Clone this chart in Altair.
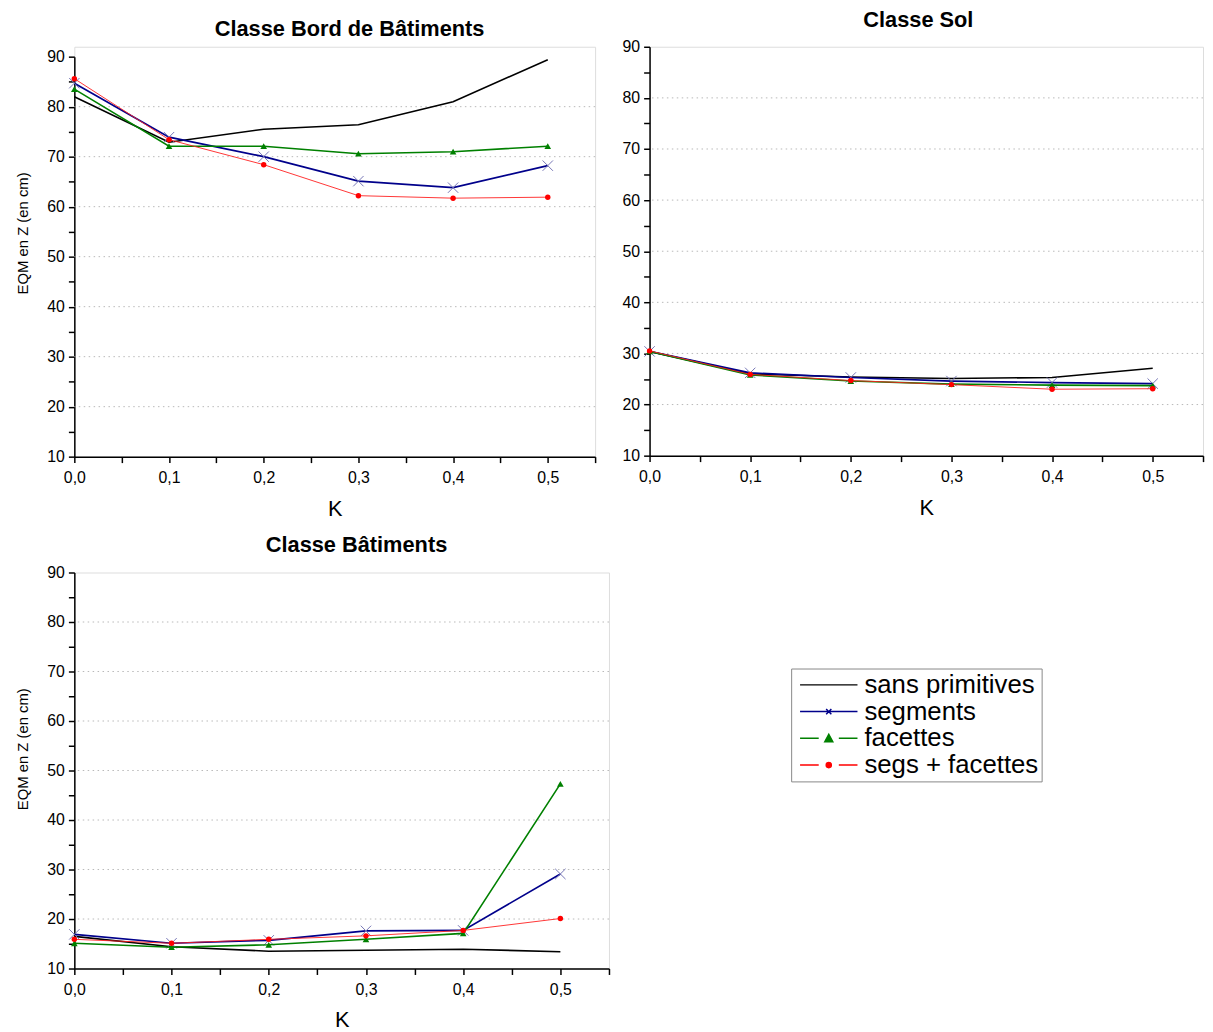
import altair as alt
import pandas as pd

# ---------------- data ----------------
K = [0.0, 0.1, 0.2, 0.3, 0.4, 0.5]
SERIES = ["sans primitives", "segments", "facettes", "segs + facettes"]

bord_sans = [82.0, 72.9, 75.5, 76.4, 81.0, 89.4]
bord_seg = [84.7, 73.9, 70.0, 65.1, 63.8, 68.2]
bord_fac = [83.5, 72.1, 72.1, 70.6, 71.0, 72.1]
bord_segfac = [85.6, 73.4, 68.4, 62.2, 61.7, 61.9]

sol_sans = [30.4, 26.0, 25.4, 25.1, 25.3, 27.1]
sol_seg = [30.4, 26.2, 25.3, 24.6, 24.3, 24.1]
sol_fac = [30.4, 25.8, 24.6, 24.0, 23.8, 23.7]
sol_segfac = [30.5, 25.9, 24.7, 23.9, 23.0, 23.1]

bat_sans = [16.5, 14.4, 13.5, 13.7, 13.9, 13.4]
bat_seg = [16.9, 15.1, 15.7, 17.6, 17.7, 29.1]
bat_fac = [15.1, 14.3, 14.8, 15.9, 17.1, 47.3]
bat_segfac = [15.9, 15.1, 15.9, 16.6, 17.7, 20.1]

Y_TICKS = list(range(10, 95, 5))
X_TICKS = [round(i * 0.05, 2) for i in range(12)]
GRID = [20, 30, 40, 50, 60, 70, 80]

# ---------------- styles ----------------
LINE_COLOR = {"sans primitives": "#000000", "segments": "#00008b",
              "facettes": "#008000", "segs + facettes": "#ff2020"}
LINE_WIDTH = {"sans primitives": 1.6, "segments": 1.7,
              "facettes": 1.6, "segs + facettes": 0.9}
LEGEND_COLORS = ["#000000", "#00008b", "#008000", "#ff0000"]
LEGEND_PATHS = [
    "M-1,0L1,0",
    "M-1,0L1,0M-0.09,-0.09L0.09,0.09M-0.09,0.09L0.09,-0.09",
    "M-1,0L-0.35,0M0.35,0L1,0M-0.14,0.12L0,-0.14L0.14,0.12Z",
    "M-1,0L-0.35,0M0.35,0L1,0M0.09,0A0.09,0.09 0 1 1 -0.09,0A0.09,0.09 0 1 1 0.09,0Z",
]
FONT = "Liberation Sans"


def long_df(vals):
    rows = []
    for s, v in zip(SERIES, vals):
        for k, e in zip(K, v):
            rows.append({"K": k, "EQM": e, "series": s})
    return pd.DataFrame(rows)


def make_axes(ytitle, yrange=None, title_y=None):
    xax = alt.Axis(values=X_TICKS,
                   labelExpr="round(datum.value*100) % 10 === 0 ? replace(format(datum.value, '.1f'), '.', ',') : ''",
                   title="K", grid=False, labelFlush=False, labelOverlap=False,
                   domainColor="black", domainWidth=1.5, tickColor="black", tickWidth=1.5,
                   tickSize=6, labelFontSize=16, labelFont=FONT, labelColor="black",
                   labelPadding=7, titleFontSize=22, titleFont=FONT, titleFontWeight="normal",
                   titleColor="black", titlePadding=13)
    yopts = dict(values=Y_TICKS,
                 labelExpr="round(datum.value) % 10 === 0 ? format(datum.value, 'd') : ''",
                 grid=False, labelFlush=False, labelOverlap=False,
                 domainColor="black", domainWidth=1.5, tickColor="black", tickWidth=1.5,
                 tickSize=6, labelFontSize=16, labelFont=FONT, labelColor="black",
                 labelPadding=4, titleFontSize=15, titleFont=FONT, titleFontWeight="normal",
                 titleColor="black")
    if ytitle:
        yopts.update(title="EQM en Z (en cm)", titleX=-52, titleY=title_y,
                     titleAngle=270, titleAlign="center", titleBaseline="middle")
    else:
        yopts.update(title=None)
    yax = alt.Axis(**yopts)
    X = alt.X("K:Q", scale=alt.Scale(domain=[0, 0.55], nice=False, zero=False), axis=xax)
    if yrange is not None:
        ysc = alt.Scale(domain=[10, 90], nice=False, zero=False, range=yrange)
    else:
        ysc = alt.Scale(domain=[10, 90], nice=False, zero=False)
    Y = alt.Y("EQM:Q", scale=ysc, axis=yax)
    return X, Y


def panel(vals, title, w, h, ytitle=True, with_legend=False, yrange=None, title_y=None):
    X, Y = make_axes(ytitle, yrange, title_y)
    df = long_df(vals)
    layers = []
    grid = alt.Chart(pd.DataFrame({"EQM": GRID})).mark_rule(
        color="#b8b8b8", strokeDash=[1.5, 3.5], strokeWidth=1).encode(y=Y)
    layers.append(grid)
    for s in SERIES:
        d = df[df["series"] == s]
        layers.append(alt.Chart(d).mark_line(color=LINE_COLOR[s], strokeWidth=LINE_WIDTH[s]).encode(x=X, y=Y))
        if s == "segments":
            layers.append(alt.Chart(d).mark_point(shape="M-1,-1L1,1M-1,1L1,-1", filled=False, size=110,
                                                  color="#7575b5", strokeWidth=1, opacity=1).encode(x=X, y=Y))
        elif s == "facettes":
            layers.append(alt.Chart(d).mark_point(shape="triangle-up", filled=True, size=45,
                                                  color="#008000", opacity=1).encode(x=X, y=Y))
        elif s == "segs + facettes":
            layers.append(alt.Chart(d).mark_point(shape="circle", filled=True, size=30,
                                                  color="#ff0000", opacity=1).encode(x=X, y=Y))
    if with_legend:
        leg = alt.Legend(title=None, orient="none", legendX=724, legendY=628,
                         symbolSize=3364, clipHeight=27, labelFontSize=26, labelFont=FONT,
                         labelColor="black", labelOffset=6, padding=3, symbolOffset=5,
                         strokeColor="#888888", fillColor="white", symbolStrokeWidth=1.5,
                         symbolOpacity=1, rowPadding=0, labelLimit=400)
        sc = dict(domain=SERIES)
        layers.append(alt.Chart(df).mark_point(filled=True, opacity=0).encode(
            x=X, y=Y,
            shape=alt.Shape("series:N", scale=alt.Scale(range=LEGEND_PATHS, **sc), legend=leg),
            fill=alt.Fill("series:N", scale=alt.Scale(range=LEGEND_COLORS, **sc), legend=leg),
            stroke=alt.Stroke("series:N", scale=alt.Scale(range=LEGEND_COLORS, **sc), legend=leg),
        ))
    return alt.layer(*layers).properties(width=w, height=h, title=title)


def ttl(text, offset, dx):
    return alt.TitleParams(text=text, fontSize=22, font=FONT, fontWeight="bold", color="black",
                           offset=offset, dx=dx, anchor="middle")


tl = panel([bord_sans, bord_seg, bord_fac, bord_segfac], ttl("Classe Bord de Bâtiments", 6, 15),
           526, 414, yrange=[414, 10], title_y=188)
tr = panel([sol_sans, sol_seg, sol_fac, sol_segfac], ttl("Classe Sol", 7, -8), 559, 413, ytitle=False)
bl = panel([bat_sans, bat_seg, bat_fac, bat_segfac], ttl("Classe Bâtiments", 8, 15), 540, 400,
           with_legend=True, title_y=178)

chart = alt.vconcat(
    alt.hconcat(tl, tr, spacing=24),
    bl,
    spacing=13,
).properties(
    padding={"left": 7, "top": -5, "right": 0, "bottom": 0}
).configure_view(stroke=None).configure(background="white")

chart.save("out.html", embed_options={"renderer": "svg", "actions": False})
